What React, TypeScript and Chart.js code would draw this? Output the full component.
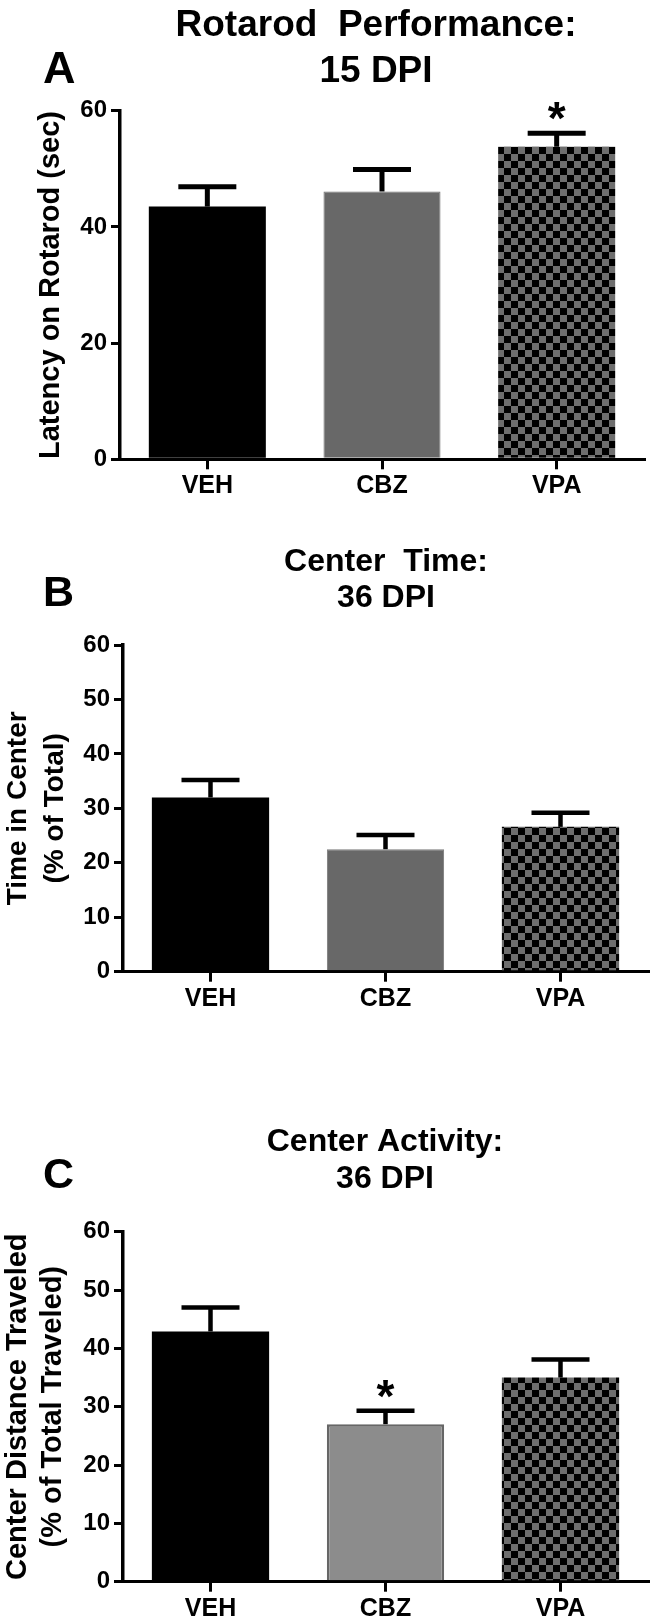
import React, { useEffect, useRef } from 'react';
import { Chart, registerables } from 'chart.js';

Chart.register(...registerables);

// ---------- data ----------
const categories = ['VEH', 'CBZ', 'VPA'];

const rotarodMean = [43.5, 46.1, 53.8];
const rotarodSem = [3.4, 3.8, 2.3];
const rotarodStars = [false, false, true];
const rotarodTicks = [0, 20, 40, 60];

const centerTimeMean = [32.0, 22.5, 26.6];
const centerTimeSem = [3.2, 2.6, 2.6];
const centerTimeStars = [false, false, false];

const centerActivityMean = [42.9, 27.0, 35.0];
const centerActivitySem = [4.1, 2.3, 3.1];
const centerActivityStars = [false, true, false];

const percentTicks = [0, 10, 20, 30, 40, 50, 60];

const titleA = ['Rotarod  Performance:', '15 DPI'];
const titleB = ['Center  Time:', '36 DPI'];
const titleC = ['Center Activity:', '36 DPI'];

const yTitleA = ['Latency on Rotarod (sec)'];
const yTitleB = ['Time in Center', '(% of Total)'];
const yTitleC = ['Center Distance Traveled', '(% of Total Traveled)'];

// ---------- styles ----------
const FONT = '"Liberation Sans", Arial, Helvetica, sans-serif';
const W = 652;

interface PanelCfg {
  top: number;
  height: number;
  letter: string;
  letterBaseline: number;
  letterSize: number;
  title: string[];
  titleBaselines: number[];
  titleX: number;
  titleSize: number;
  yTitle: string[];
  yTitleSize: number;
  yTitleLineHeight: number;
  yTitlePad: number;
  means: number[];
  sems: number[];
  stars: boolean[];
  ticks: number[];
  area: { left: number; right: number; top: number; bottom: number };
  cbzFill: string;
  cbzBorder: string;
  cbzBorderWidth: number;
  errWidth: number;
}

const panels: PanelCfg[] = [
  {
    top: 0,
    height: 520,
    letter: 'A',
    letterBaseline: 83,
    letterSize: 45,
    title: titleA,
    titleBaselines: [36, 82],
    titleX: 376,
    titleSize: 37,
    yTitle: yTitleA,
    yTitleSize: 29,
    yTitleLineHeight: 1.2,
    yTitlePad: 34,
    means: rotarodMean,
    sems: rotarodSem,
    stars: rotarodStars,
    ticks: rotarodTicks,
    area: { left: 120, right: 644, top: 110.7, bottom: 459.3 },
    cbzFill: '#686868',
    cbzBorder: '#707070',
    cbzBorderWidth: 1,
    errWidth: 5,
  },
  {
    top: 520,
    height: 520,
    letter: 'B',
    letterBaseline: 86,
    letterSize: 43,
    title: titleB,
    titleBaselines: [51, 87],
    titleX: 386,
    titleSize: 32,
    yTitle: yTitleB,
    yTitleSize: 28,
    yTitleLineHeight: 1.32,
    yTitlePad: 0,
    means: centerTimeMean,
    sems: centerTimeSem,
    stars: centerTimeStars,
    ticks: percentTicks,
    area: { left: 123, right: 648, top: 125, bottom: 451.7 },
    cbzFill: '#686868',
    cbzBorder: '#7a7a7a',
    cbzBorderWidth: 1,
    errWidth: 4.5,
  },
  {
    top: 1040,
    height: 582,
    letter: 'C',
    letterBaseline: 148,
    letterSize: 43,
    title: titleC,
    titleBaselines: [111, 148],
    titleX: 385,
    titleSize: 32,
    yTitle: yTitleC,
    yTitleSize: 29,
    yTitleLineHeight: 1.22,
    yTitlePad: 0,
    means: centerActivityMean,
    sems: centerActivitySem,
    stars: centerActivityStars,
    ticks: percentTicks,
    area: { left: 123, right: 648, top: 191.7, bottom: 541.7 },
    cbzFill: '#8c8c8c',
    cbzBorder: '#666666',
    cbzBorderWidth: 2.5,
    errWidth: 4.5,
  },
];

function makeChecker(ctx: CanvasRenderingContext2D) {
  const cell = 7;
  const c = document.createElement('canvas');
  c.width = cell * 2;
  c.height = cell * 2;
  const g = c.getContext('2d')!;
  g.fillStyle = '#6e6e6e';
  g.fillRect(0, 0, cell * 2, cell * 2);
  g.fillStyle = '#000000';
  g.fillRect(0, 0, cell, cell);
  g.fillRect(cell, cell, cell, cell);
  return ctx.createPattern(c, 'repeat');
}

function Panel({ cfg }: { cfg: PanelCfg }) {
  const ref = useRef<HTMLCanvasElement>(null);

  useEffect(() => {
    const canvas = ref.current!;
    const ctx = canvas.getContext('2d')!;
    const checker = makeChecker(ctx);

    const textPlugin = {
      id: 'panelText',
      afterDraw(chart: any) {
        const c = chart.ctx as CanvasRenderingContext2D;
        c.save();
        c.fillStyle = '#000';
        c.textBaseline = 'alphabetic';
        c.textAlign = 'center';
        c.font = `bold ${cfg.titleSize}px ${FONT}`;
        cfg.title.forEach((line, i) => c.fillText(line, cfg.titleX, cfg.titleBaselines[i]));
        c.textAlign = 'left';
        c.font = `bold ${cfg.letterSize}px ${FONT}`;
        c.fillText(cfg.letter, 43, cfg.letterBaseline);
        c.restore();
      },
    };

    const errPlugin = {
      id: 'errorBars',
      afterDatasetsDraw(chart: any) {
        const c = chart.ctx as CanvasRenderingContext2D;
        const yScale = chart.scales.y;
        const meta = chart.getDatasetMeta(0);
        c.save();
        c.strokeStyle = '#000';
        c.fillStyle = '#000';
        c.lineWidth = cfg.errWidth;
        c.lineCap = 'butt';
        meta.data.forEach((bar: any, i: number) => {
          const x = bar.x;
          const yTop = yScale.getPixelForValue(cfg.means[i]);
          const yErr = yScale.getPixelForValue(cfg.means[i] + cfg.sems[i]);
          c.beginPath();
          c.moveTo(x, yTop);
          c.lineTo(x, yErr);
          c.stroke();
          c.beginPath();
          c.moveTo(x - 29, yErr);
          c.lineTo(x + 29, yErr);
          c.stroke();
          if (cfg.stars[i]) {
            c.font = `bold 46px ${FONT}`;
            c.textAlign = 'center';
            c.textBaseline = 'alphabetic';
            const m = c.measureText('*');
            const centerY = yErr - 22;
            const baseY = centerY + (m.actualBoundingBoxAscent - m.actualBoundingBoxDescent) / 2;
            c.fillText('*', x, baseY);
          }
        });
        c.restore();
      },
    };

    const chart = new Chart(canvas, {
      type: 'bar',
      data: {
        labels: categories,
        datasets: [
          {
            data: cfg.means,
            backgroundColor: ['#000000', cfg.cbzFill, checker as any],
            borderColor: ['#000000', cfg.cbzBorder, '#000000'],
            borderWidth: [0, cfg.cbzBorderWidth, 0],
            barPercentage: 0.67,
            categoryPercentage: 1,
          },
        ],
      },
      options: {
        responsive: false,
        animation: false,
        devicePixelRatio: 1,
        events: [],
        layout: {
          padding: { left: 0, top: cfg.area.top, right: W - cfg.area.right, bottom: 0 },
        },
        plugins: {
          legend: { display: false },
          title: { display: false },
          tooltip: { enabled: false },
        },
        scales: {
          x: {
            type: 'category',
            offset: true,
            grid: {
              display: true,
              offset: false,
              drawOnChartArea: false,
              drawTicks: true,
              tickLength: 10,
              tickWidth: 3,
              tickColor: '#000',
              color: '#000',
              lineWidth: 3,
            },
            border: { display: true, color: '#000', width: 3 },
            ticks: {
              color: '#000',
              font: { family: FONT, size: 25, weight: 'bold' },
              padding: 2,
              maxRotation: 0,
              autoSkip: false,
            },
            afterFit: (s: any) => {
              s.height = cfg.height - cfg.area.bottom;
            },
          },
          y: {
            type: 'linear',
            min: 0,
            max: 60,
            afterBuildTicks: (s: any) => {
              s.ticks = cfg.ticks.map((v) => ({ value: v }));
            },
            grid: {
              display: true,
              drawOnChartArea: false,
              drawTicks: true,
              tickLength: 9,
              tickWidth: 3,
              tickColor: '#000',
              color: '#000',
              lineWidth: 3,
            },
            border: { display: true, color: '#000', width: 3.5 },
            ticks: {
              color: '#000',
              font: { family: FONT, size: 24, weight: 'bold' },
              padding: 4,
            },
            title: {
              display: true,
              text: cfg.yTitle,
              color: '#000',
              font: {
                family: FONT,
                size: cfg.yTitleSize,
                weight: 'bold',
                lineHeight: cfg.yTitleLineHeight,
              },
              padding: { top: cfg.yTitlePad, bottom: 0 },
            },
            afterFit: (s: any) => {
              s.width = cfg.area.left;
            },
          },
        },
      } as any,
      plugins: [errPlugin, textPlugin],
    });

    return () => chart.destroy();
  }, [cfg]);

  return (
    <canvas
      ref={ref}
      width={W}
      height={cfg.height}
      style={{ position: 'absolute', left: 0, top: cfg.top, width: W, height: cfg.height, display: 'block' }}
    />
  );
}

export default function App() {
  return (
    <div
      style={{
        position: 'absolute',
        left: 0,
        top: 0,
        width: W,
        height: 1622,
        background: '#ffffff',
        overflow: 'hidden',
      }}
    >
      {panels.map((p) => (
        <Panel key={p.letter} cfg={p} />
      ))}
    </div>
  );
}
